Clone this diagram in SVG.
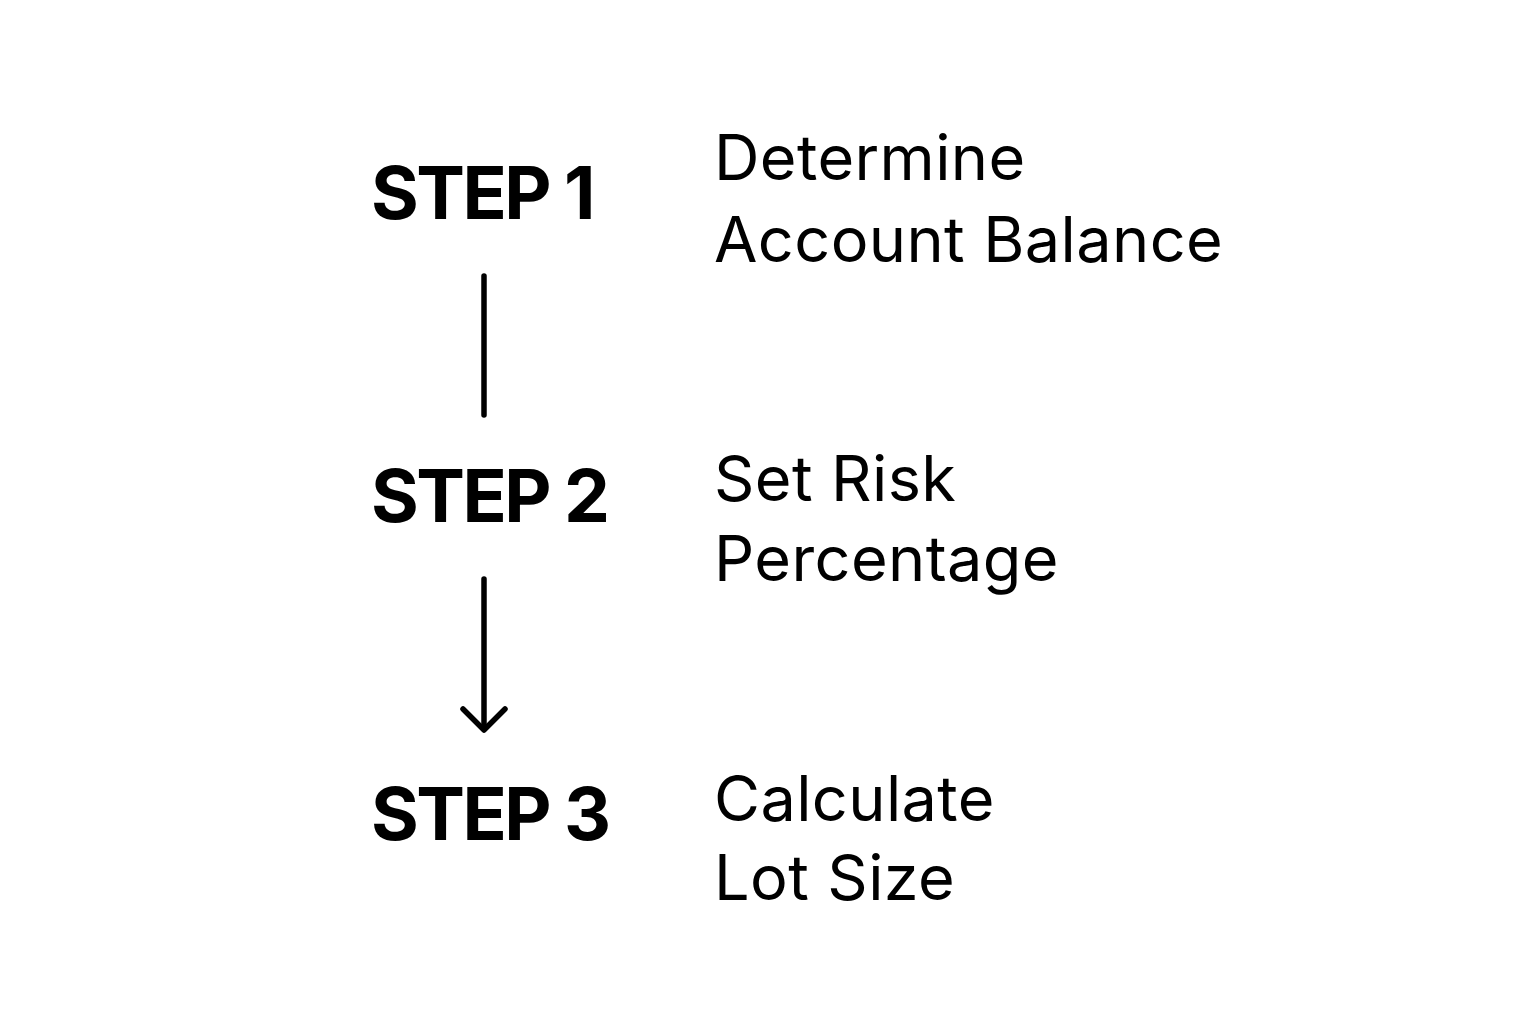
<svg xmlns="http://www.w3.org/2000/svg" width="1536" height="1024" viewBox="0 0 1536 1024">
<style>
.step{font-family:Inter,"Liberation Sans",sans-serif;font-weight:700;font-size:73px;letter-spacing:-2.5px;fill:#000}
.desc{font-family:Inter,"Liberation Sans",sans-serif;font-weight:400;font-size:63px;letter-spacing:0.4px;fill:#000}
.conn{stroke:#000;stroke-width:5.5;stroke-linecap:round;stroke-linejoin:round;fill:none}
</style>
<rect width="1536" height="1024" fill="#fff"/>
<g id="step1"><text class="step" x="371" y="219">STEP 1</text><text class="desc" x="714" y="180">Determine</text><text class="desc" x="714" y="262">Account Balance</text></g>
<g id="step2"><text class="step" x="371" y="522">STEP 2</text><text class="desc" x="714" y="501">Set Risk</text><text class="desc" x="714" y="581">Percentage</text></g>
<g id="step3"><text class="step" x="371" y="840">STEP 3</text><text class="desc" x="714" y="821">Calculate</text><text class="desc" x="714" y="900">Lot Size</text></g>
<g id="connectors">
<line class="conn" x1="484" y1="276" x2="484" y2="415"/>
<line class="conn" x1="484" y1="579" x2="484" y2="729"/>
<polyline class="conn" points="463,709 484,730 505,709"/>
</g>
</svg>
